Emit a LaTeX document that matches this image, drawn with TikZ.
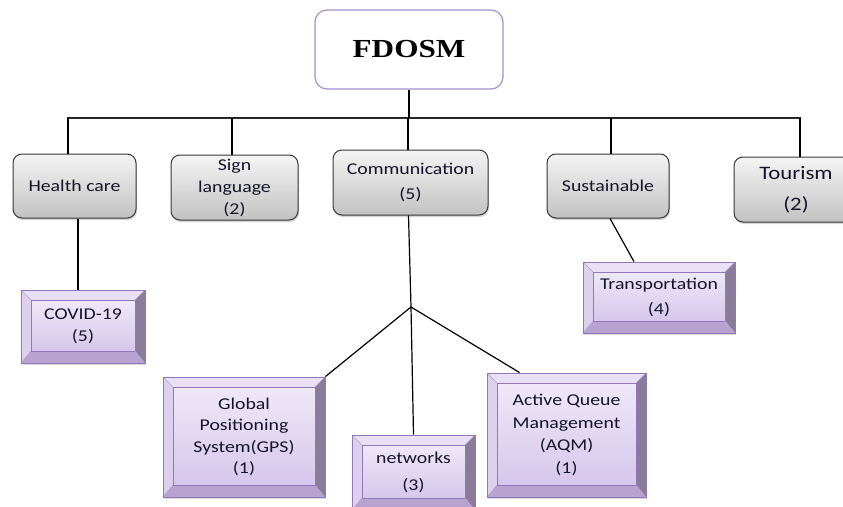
\documentclass[tikz,border=0pt]{standalone}
\usepackage{fontspec}
\newfontfamily\calfont[FakeStretch=1.2]{Carlito}
\newfontfamily\serfont[FakeStretch=1.2]{Liberation Serif}
\usetikzlibrary{shadows}
\definecolor{bevedge}{HTML}{9277BD}
\definecolor{bevT}{HTML}{E9E0F5}
\definecolor{bevL}{HTML}{DDD0EE}
\definecolor{bevR}{HTML}{8A7B9B}
\definecolor{bevB}{HTML}{B7A2D0}
\definecolor{inTop}{HTML}{EFE8F8}
\definecolor{inBot}{HTML}{D6C6EC}
\definecolor{gtop}{HTML}{F4F4F4}
\definecolor{gbot}{HTML}{C2C2C2}
\definecolor{boxedge}{HTML}{383838}
\definecolor{fedge}{HTML}{A48FCB}
\definecolor{txt}{HTML}{15142A}
\tikzset{
  lbl/.style={font=\calfont\fontsize{16.5}{22}\selectfont},
  graybox/.style={draw=boxedge, line width=1pt, rounded corners=9pt,
    top color=gtop, bottom color=gbot, align=center, inner sep=0pt, text=txt,
    drop shadow={shadow xshift=1pt, shadow yshift=-2pt, opacity=0.35}},
  bevbox/.style={draw=bevedge, line width=0.9pt, align=center, inner sep=0pt, text=txt,
    drop shadow={shadow xshift=1pt, shadow yshift=-2pt, opacity=0.3},
    path picture={
      \coordinate (bvnw) at (path picture bounding box.north west);
      \coordinate (bvne) at (path picture bounding box.north east);
      \coordinate (bvse) at (path picture bounding box.south east);
      \coordinate (bvsw) at (path picture bounding box.south west);
      \coordinate (bvinw) at ([shift={(10pt,-10pt)}]bvnw);
      \coordinate (bvine) at ([shift={(-10pt,-10pt)}]bvne);
      \coordinate (bvise) at ([shift={(-10pt,12pt)}]bvse);
      \coordinate (bvisw) at ([shift={(10pt,12pt)}]bvsw);
      \fill[bevT] (bvnw) -- (bvne) -- (bvine) -- (bvinw) -- cycle;
      \fill[bevL] (bvnw) -- (bvinw) -- (bvisw) -- (bvsw) -- cycle;
      \fill[bevR] (bvne) -- (bvse) -- (bvise) -- (bvine) -- cycle;
      \fill[bevB] (bvsw) -- (bvisw) -- (bvise) -- (bvse) -- cycle;
      \shade[top color=inTop, bottom color=inBot] (bvinw) rectangle (bvise);
      \draw[bevedge, line width=0.6pt] (bvinw) rectangle (bvise);
      \draw[bevedge!70, line width=0.4pt] (bvnw) -- (bvinw) (bvne) -- (bvine) (bvse) -- (bvise) (bvsw) -- (bvisw);
    }},
  conn/.style={draw=black, line width=1.2pt},
  busline/.style={draw=black!85, line width=1.8pt}
}
\begin{document}
\begin{tikzpicture}[x=1pt,y=-1pt]
\useasboundingbox (0,0) rectangle (843,506);
\clip (0,0) rectangle (843,506);
% root
\node[draw=fedge, line width=1.2pt, rounded corners=12pt, fill=white,
  minimum width=188pt, minimum height=79pt, inner sep=0pt]
  (F) at (409,49.5) {\serfont\bfseries\fontsize{26}{30}\selectfont FDOSM};
% level 1
\node[graybox, lbl, minimum width=123pt, minimum height=64pt] (HC) at (74.5,186) {Health care};
\node[graybox, lbl, minimum width=127pt, minimum height=65pt] (SL) at (234.5,187.5) {Sign\\language\\(2)};
\node[graybox, font=\calfont\fontsize{16.5}{25}\selectfont, minimum width=155pt, minimum height=65pt] (CM) at (410.5,182.5) {Communication\\(5)};
\node[graybox, lbl, minimum width=122pt, minimum height=64pt] (SU) at (608,186) {Sustainable};
\node[graybox, font=\calfont\fontsize{19}{31}\selectfont, minimum width=124pt, minimum height=65pt] (TO) at (796,189.5) {Tourism\\(2)};
% level 2
\node[bevbox, lbl, minimum width=124pt, minimum height=73pt] (CV) at (83,326.5) {COVID-19\\(5)};
\node[bevbox, font=\calfont\fontsize{16.5}{25}\selectfont, minimum width=152pt, minimum height=71pt] (TR) at (659,297.5) {Transportation\\(4)};
\node[bevbox, font=\calfont\fontsize{16.5}{21.5}\selectfont, minimum width=162pt, minimum height=120pt] (GP) at (244,437) {Global\\Positioning\\System(GPS)\\(1)};
\node[bevbox, font=\calfont\fontsize{16.5}{27}\selectfont, minimum width=123pt, minimum height=75pt] (NW) at (413.5,472.5) {networks\\(3)};
\node[bevbox, font=\calfont\fontsize{16.5}{22.5}\selectfont, minimum width=159pt, minimum height=124pt] (AQ) at (566.5,435) {Active Queue\\Management\\(AQM)\\(1)};
% bus
\coordinate (b1) at (68,118);
\coordinate (b2) at (232,118);
\coordinate (b3) at (408,118);
\coordinate (b4) at (611,118);
\coordinate (b5) at (800,118);
\coordinate (J) at (411,307);
\draw[busline] ([xshift=-1pt]b1) -- ([xshift=1pt]b5);
\draw[conn] (F.south) -- (F.south |- b3);
\draw[conn] (b1) -- (b1 |- HC.north);
\draw[conn] (b2) -- (b2 |- SL.north);
\draw[conn] (b3) -- (b3 |- CM.north);
\draw[conn] (b4) -- (b4 |- SU.north);
\draw[conn] (b5) -- (b5 |- TO.north);
% lower connectors
\draw[conn] ([xshift=3.5pt]HC.south) -- ([xshift=3.5pt]HC.south |- CV.north);
\draw[conn] ([xshift=2pt]SU.south) -- ([xshift=-25pt]TR.north);
\draw[conn] ([xshift=-2pt]CM.south) -- (J);
\draw[conn] (J) -- (GP.north east);
\draw[conn] (J) -- (NW.north);
\draw[conn] (J) -- ([xshift=33pt]AQ.north west);
\end{tikzpicture}
\end{document}
